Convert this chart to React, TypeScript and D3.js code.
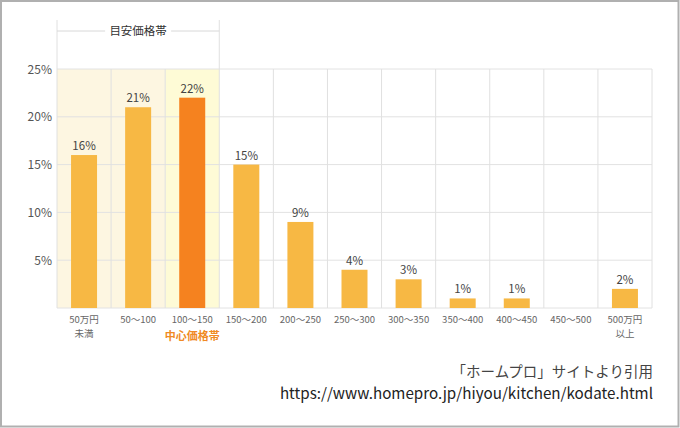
import React from "react";
import * as d3 from "d3";

const categories = ["50万円\n未満", "50〜100", "100〜150", "150〜200", "200〜250", "250〜300", "300〜350", "350〜400", "400〜450", "450〜500", "500万円\n以上"];
const values = [16, 21, 22, 15, 9, 4, 3, 1, 1, 0, 2];
const yTicks = [5, 10, 15, 20, 25];
const bracketLabel = "目安価格帯";
const centerLabel = "中心価格帯";
const sourceLine1 = "「ホームプロ」サイトより引用";
const sourceLine2 = "https://www.homepro.jp/hiyou/kitchen/kodate.html";

const W = 680, H = 428;
const left = 57, right = 652, top = 69, bottom = 308;
const font = "'Noto Sans CJK JP', 'Noto Sans', sans-serif";

export default function App() {
  const x = d3.scaleBand<number>().domain(d3.range(categories.length)).range([left, right]).padding(0);
  const y = d3.scaleLinear().domain([0, 25]).range([bottom, top]);
  const bw = 26;
  return (
    <svg width={W} height={H} style={{ position: "absolute", left: 0, top: 0, background: "#fff" }} fontFamily={font}>
      <rect x={1} y={1} width={W - 2.5} height={H - 2.5} fill="#fff" stroke="#b0b0b0" strokeWidth={2} />
      {[0, 1].map(i => (
        <rect key={"s" + i} x={x(i)!} y={top} width={x.bandwidth()} height={bottom - top} fill="#fdf6e1" />
      ))}
      <rect x={x(2)!} y={top} width={x.bandwidth()} height={bottom - top} fill="#fefbd6" />
      {[0, ...yTicks].map(t => (
        <line key={"h" + t} x1={left} x2={right} y1={y(t)} y2={y(t)} stroke="#e2e2e2" strokeWidth={1} />
      ))}
      {d3.range(categories.length + 1).map(i => {
        const xx = i < categories.length ? x(i)! : right;
        const ext = i === 0 || i === 3;
        return <line key={"v" + i} x1={xx} x2={xx} y1={ext ? 20 : top} y2={bottom} stroke="#e0e0e0" strokeWidth={1} />;
      })}
      <line x1={left} x2={x(3)!} y1={31} y2={31} stroke="#d8d8d8" />
      <rect x={(left + x(3)!) / 2 - 33} y={23} width={66} height={16} fill="#fff" />
      <text x={(left + x(3)!) / 2} y={35} textAnchor="middle" fontSize={11.5} fill="#333">{bracketLabel}</text>
      {yTicks.map(t => (
        <text key={"y" + t} x={52} y={y(t) + 4.5} textAnchor="end" fontSize={12} fill="#555">{t}%</text>
      ))}
      {values.map((v, i) => v > 0 && (
        <g key={"b" + i}>
          <rect x={x(i)! + x.bandwidth() / 2 - bw / 2} y={y(v)} width={bw} height={bottom - y(v)} fill={i === 2 ? "#f5821f" : "#f7b844"} />
          <text x={x(i)! + x.bandwidth() / 2} y={y(v) - 5} textAnchor="middle" fontSize={11.5} fill="#444">{v}%</text>
        </g>
      ))}
      {categories.map((c, i) => c.split("\n").map((line, j) => (
        <text key={"c" + i + j} x={x(i)! + x.bandwidth() / 2} y={323 + j * 14} textAnchor="middle" fontSize={9.5} fill="#666">{line}</text>
      )))}
      <text x={x(2)! + x.bandwidth() / 2} y={340} textAnchor="middle" fontSize={11} fontWeight="bold" fill="#f08a24">{centerLabel}</text>
      <text x={653} y={377} textAnchor="end" fontSize={14.5} fill="#444">{sourceLine1}</text>
      <text x={653} y={399} textAnchor="end" fontSize={15.2} fill="#222">{sourceLine2}</text>
    </svg>
  );
}
